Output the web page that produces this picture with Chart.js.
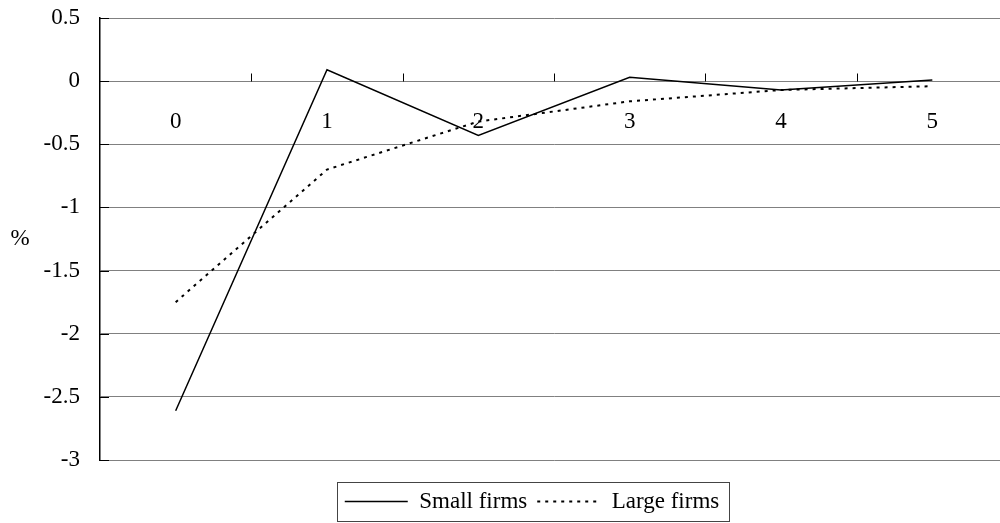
<!DOCTYPE html>
<html>
<head>
<meta charset="utf-8">
<script src="https://cdn.jsdelivr.net/npm/chart.js@4/dist/chart.umd.min.js"></script>
<style>
    html, body { margin: 0; padding: 0; background: #fff; overflow: hidden; }
    #wrap { width: 1064px; height: 523px; }
</style>
</head>
<body>
<div id="wrap"><canvas id="firmsChart"></canvas></div>
<script>
// values
var categories = ['0', '1', '2', '3', '4', '5'];
var smallFirms = [-2.61, 0.09, -0.43, 0.03, -0.07, 0.01];
var largeFirms = [-1.75, -0.70, -0.32, -0.16, -0.07, -0.04];
var yTicks = [0.5, 0, -0.5, -1, -1.5, -2, -2.5, -3];

var serif = "'Liberation Serif', 'Times New Roman', serif";

// extra marks: inner ticks, "%" label, legend frame
var extras = {
    id: 'extras',
    afterDraw: function (chart) {
        let ctx = chart.ctx;
        let area = chart.chartArea;
        let x = chart.scales.x;
        let y = chart.scales.y;
        ctx.save();
        ctx.strokeStyle = '#000';
        ctx.lineWidth = 1;
        // y ticks pointing into the plot
        yTicks.forEach(function (v) {
            let py = Math.round(y.getPixelForValue(v)) + 0.5;
            ctx.beginPath();
            ctx.moveTo(area.left, py);
            ctx.lineTo(area.left + 9, py);
            ctx.stroke();
        });
        // x ticks between categories, above the zero line
        let zero = Math.round(y.getPixelForValue(0)) + 0.5;
        for (let i = 0; i <= categories.length; i++) {
            let px = Math.round(x.getPixelForValue(i - 0.5)) + 0.5;
            if (px <= area.left + 1) continue;
            ctx.beginPath();
            ctx.moveTo(px, zero - 8);
            ctx.lineTo(px, zero);
            ctx.stroke();
        }
        // "%" axis label, upright
        ctx.fillStyle = '#000';
        ctx.font = '23px ' + serif;
        ctx.textAlign = 'center';
        ctx.textBaseline = 'middle';
        ctx.fillText('%', 20, y.getPixelForValue(-1.25));
        // frame round the legend
        let boxes = chart.legend.legendHitBoxes;
        if (boxes && boxes.length) {
            let l = boxes[0].left - 8;
            let r = boxes[boxes.length - 1].left + boxes[boxes.length - 1].width + 10;
            let t = boxes[0].top - 8;
            let b = boxes[0].top + boxes[0].height + 8;
            ctx.strokeStyle = '#444';
            ctx.strokeRect(Math.round(l) + 0.5, Math.round(t) + 0.5, Math.round(r - l), Math.round(b - t));
        }
        ctx.restore();
    }
};

var ctx = document.getElementById('firmsChart').getContext('2d');
var myChart = new Chart(ctx, {
    type: 'line',
    data: {
        labels: categories,
        datasets: [
        {
            label: 'Small firms',
            data: smallFirms,
            borderColor: '#000',
            backgroundColor: '#000',
            borderWidth: 1.5,
            pointRadius: 0,
            pointStyle: 'line',
            tension: 0,
            fill: false
        },
        {
            label: 'Large firms',
            data: largeFirms,
            borderColor: '#000',
            backgroundColor: '#000',
            borderWidth: 2,
            borderDash: [3, 5],
            pointRadius: 0,
            pointStyle: 'line',
            tension: 0,
            fill: false
        }
        ]
    },
    options: {
        responsive: true,
        maintainAspectRatio: false,
        animation: false,
        layout: { padding: { top: 18, left: 0, right: 0, bottom: 0 } },
        plugins: {
            tooltip: { enabled: false },
            legend: {
                position: 'bottom',
                labels: {
                    color: '#000',
                    font: { family: serif, size: 23 },
                    usePointStyle: true,
                    pointStyleWidth: 63,
                    padding: 10,
                    generateLabels: function (chart) {
                        let items = Chart.defaults.plugins.legend.labels.generateLabels(chart);
                        items.forEach(function (item) {
                            let ds = chart.data.datasets[item.datasetIndex];
                            item.lineDash = ds.borderDash || [];
                            item.lineWidth = ds.borderWidth;
                            item.pointStyle = 'line';
                        });
                        return items;
                    }
                }
            }
        },
        scales: {
            x: {
                type: 'category',
                position: { y: 0 },
                offset: true,
                grid: { display: false },
                border: { display: false },
                ticks: {
                    color: '#000',
                    font: { family: serif, size: 23 },
                    padding: 19,
                    maxRotation: 0
                }
            },
            // empty strip between the plot and the legend
            x2: {
                position: 'bottom',
                grid: { display: false, drawTicks: false },
                border: { display: false },
                ticks: { display: false },
                afterFit: function (scale) { scale.height = 20; }
            },
            y: {
                min: -3,
                max: 0.5,
                afterBuildTicks: function (scale) {
                    scale.ticks = yTicks.map(function (v) { return { value: v }; });
                },
                afterFit: function (scale) {
                    scale.width = 100;
                    scale.paddingTop = 0;
                    scale.paddingBottom = 0;
                },
                grid: { color: '#808080', lineWidth: 1, drawTicks: false },
                border: { color: '#000', width: 1.5 },
                ticks: {
                    color: '#000',
                    font: { family: serif, size: 23 },
                    padding: 20,
                    callback: function (v) { return String(v); }
                }
            },
            y2: {
                position: 'right',
                grid: { display: false, drawTicks: false },
                border: { display: false },
                ticks: { display: false },
                afterFit: function (scale) { scale.width = 56; }
            }
        }
    },
    plugins: [extras]
});
</script>
</body>
</html>
